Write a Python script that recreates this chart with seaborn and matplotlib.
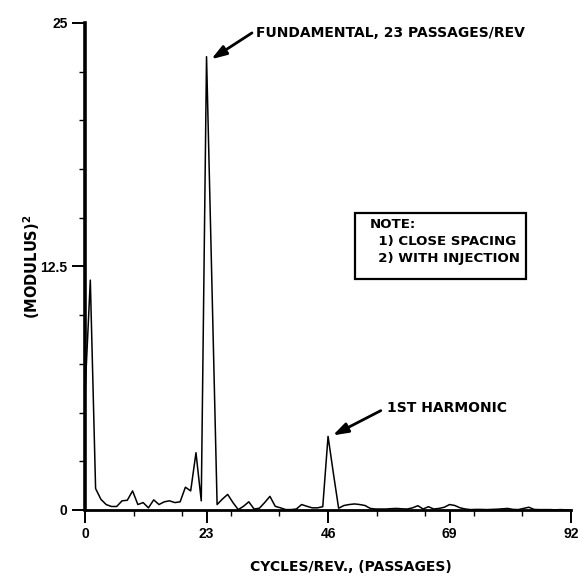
import numpy as np
import pandas as pd
import matplotlib
matplotlib.use("Agg")
import matplotlib.pyplot as plt
from matplotlib.patches import Rectangle
from matplotlib.ticker import FixedLocator, MultipleLocator
import seaborn as sns

# Spectrum of passage-to-passage signal, one value per cycle/rev
cycles = list(range(0, 93))
modulus_sq = [
    6.0, 11.8, 1.1, 0.55, 0.28, 0.18, 0.18, 0.47, 0.5, 0.98,
    0.28, 0.38, 0.11, 0.52, 0.28, 0.42, 0.47, 0.38, 0.42, 1.17,
    0.98, 2.94, 0.47, 23.27, 11.8, 0.28, 0.56, 0.8, 0.38, 0.02,
    0.19, 0.42, 0.05, 0.09, 0.38, 0.7, 0.19, 0.11, 0.02, 0.02,
    0.05, 0.28, 0.19, 0.11, 0.11, 0.17, 3.78, 1.9, 0.09, 0.23,
    0.28, 0.31, 0.28, 0.23, 0.08, 0.05, 0.05, 0.05, 0.07, 0.08,
    0.06, 0.05, 0.11, 0.22, 0.05, 0.17, 0.05, 0.08, 0.14, 0.28,
    0.23, 0.11, 0.05, 0.02, 0.03, 0.03, 0.02, 0.03, 0.04, 0.06,
    0.08, 0.03, 0.02, 0.08, 0.14, 0.03, 0.02, 0.02, 0.02, 0.01,
    0.02, 0.01, 0.0,
]
x_ticks = [0, 23, 46, 69, 92]
y_ticks = [0, 12.5, 25]
y_tick_labels = ["0", "12.5", "25"]
note_lines = ["NOTE:", "  1) CLOSE SPACING", "  2) WITH INJECTION"]

sns.set_style("ticks", {"axes.edgecolor": "black", "text.color": "black",
                        "axes.labelcolor": "black", "xtick.color": "black",
                        "ytick.color": "black"})
plt.rcParams["font.family"] = ["DejaVu Sans"]
plt.rcParams["font.weight"] = "bold"
plt.rcParams["mathtext.default"] = "bf"

df = pd.DataFrame({"cycles": cycles, "mod2": modulus_sq})

fig = plt.figure(figsize=(5.8, 5.76), dpi=100)
ax = fig.add_axes([0.1466, 0.1146, 0.838, 0.8455])

sns.lineplot(data=df, x="cycles", y="mod2", ax=ax, color="black",
             linewidth=1.1, clip_on=False)

ax.set_xlim(0, 92)
ax.set_ylim(0, 25)
sns.despine(ax=ax)
ax.spines["left"].set_linewidth(2.6)
ax.spines["bottom"].set_linewidth(2.0)

ax.xaxis.set_major_locator(FixedLocator(x_ticks))
ax.xaxis.set_minor_locator(MultipleLocator(9.2))
ax.yaxis.set_major_locator(FixedLocator(y_ticks))
ax.yaxis.set_minor_locator(MultipleLocator(2.5))
ax.set_xticklabels([str(t) for t in x_ticks])
ax.set_yticklabels(y_tick_labels)
ax.tick_params(which="major", direction="out", length=9.5, width=1.4,
               labelsize=10, pad=3, color="black", labelcolor="black")
ax.tick_params(which="minor", direction="out", length=4.5, width=1.0,
               color="black")
for lbl in ax.get_xticklabels() + ax.get_yticklabels():
    lbl.set_fontweight("bold")
    lbl.set_family("Liberation Sans")

ax.set_xlabel("CYCLES/REV., (PASSAGES)", fontsize=10, fontweight="bold",
              color="black")
ax.xaxis.set_label_coords(0.547, -0.103)
ax.set_ylabel("(MODULUS)$^{2}$", fontsize=10.5, fontweight="bold",
              va="center", color="black")
ax.yaxis.set_label_coords(-0.11, 0.5)

arrow = dict(arrowstyle="-|>,head_length=0.9,head_width=0.3",
             color="black", lw=2.0, shrinkA=0, shrinkB=0)
ax.annotate("FUNDAMENTAL, 23 PASSAGES/REV", xy=(23.9, 23.14),
            xytext=(32.45, 24.49), fontsize=10, fontweight="bold",
            va="center", ha="left", color="black")
ax.annotate("", xy=(23.9, 23.14), xytext=(31.6, 24.49), arrowprops=arrow)
ax.annotate("1ST HARMONIC", xy=(46.9, 3.83), xytext=(57.2, 5.22),
            fontsize=10, fontweight="bold", va="center", ha="left",
            color="black")
ax.annotate("", xy=(46.9, 3.83), xytext=(55.98, 5.1), arrowprops=arrow)

# note panel
ax.add_patch(Rectangle((51.1, 11.86), 32.4, 3.39, facecolor="white",
                       edgecolor="black", linewidth=1.6, zorder=3))
ax.text(53.8, 15.0, "\n".join(note_lines), fontsize=9.6, fontweight="bold",
        va="top", ha="left", linespacing=1.4, zorder=4, color="black")

fig.savefig("out.png", dpi=100)
